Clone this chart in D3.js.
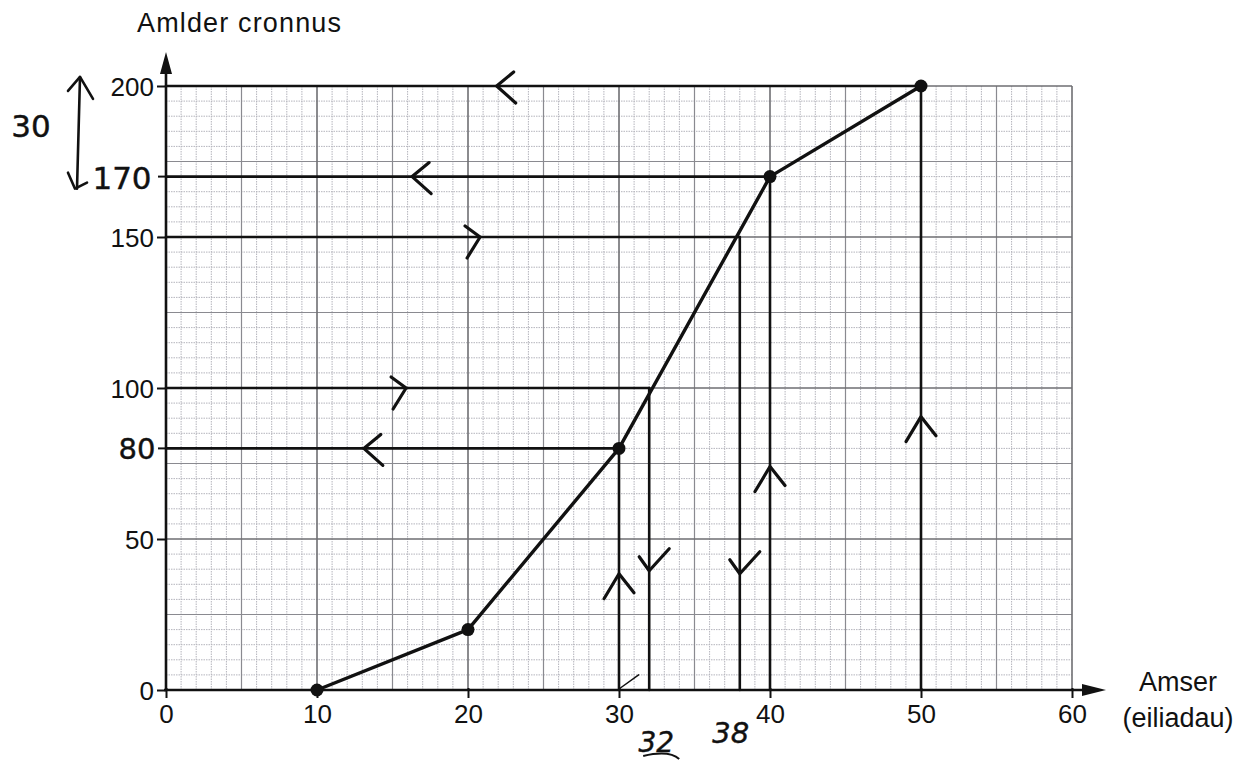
<!DOCTYPE html>
<html>
<head>
<meta charset="utf-8">
<script src="https://cdn.jsdelivr.net/npm/d3@7"></script>
<style>
  html, body { margin: 0; padding: 0; background: #fff; }
  svg { display: block; }
  .printed { font-family: "Liberation Sans", Arial, sans-serif; fill: #111; }
  .hand { font-family: "DejaVu Sans", sans-serif; fill: #111; font-weight: normal; stroke: #111; stroke-width: 0.4; }
</style>
</head>
<body>
<svg id="chart" width="1247" height="760"></svg>
<script>
// ---- data ----
const timeSeconds   = [10, 20, 30, 40, 50];
const cumulativeFreq = [0, 20, 80, 170, 200];
const xTickValues   = [0, 10, 20, 30, 40, 50, 60];
const yTickValues   = [0, 50, 100, 150, 200];
const xTitleLines   = ["Amser", "(eiliadau)"];
const yTitle        = "Amlder cronnus";

// reading lines (x read, y read)
const readX = [30, 32, 38, 40, 50];
const readY = [80, 100, 150, 170, 200];
// chevrons on the horizontal reading lines (x in data units) and their direction
const hChevX   = [13.1, 15.9, 20.8, 16.3, 21.9];
const hChevDir = ["left", "right", "right", "left", "left"];
// chevrons on the vertical reading lines (y in data units) and their direction
const vChevY   = [38.5, 39.5, 38.5, 74, 90.5];
const vChevDir = ["up", "down", "down", "up", "up"];
// handwritten labels
const handYLabels = ["170", "80"];
const handYValues = [170, 80];
const handXLabels = ["32", "38"];
const handXValues = [32, 38];
const diffLabel = "30";

// ---- scales ----
const svg = d3.select("#chart");
const x = d3.scaleLinear().domain([0, 60]).range([166, 1072]);
const y = d3.scaleLinear().domain([0, 200]).range([690, 86]);

// ---- grid ----
const grid = svg.append("g");
const xGrid = d3.range(0, 61, 1);
const yGrid = d3.range(0, 201, 5);
function lvlX(v) { return v % 10 === 0 ? 2 : (v % 5 === 0 ? 1 : 0); }
function lvlY(v) { return v % 50 === 0 ? 2 : (v % 25 === 0 ? 1 : 0); }
const gStroke = ["#b4b4bc", "#8a8a90", "#6e6e72"];
const gWidth = [1, 1.2, 1.6];
const gDash = ["1.5,1", null, null];
[0, 1, 2].forEach(level => {
  grid.selectAll(null).data(xGrid.filter(v => lvlX(v) === level)).enter().append("line")
    .attr("x1", d => x(d)).attr("x2", d => x(d)).attr("y1", y(0)).attr("y2", y(200))
    .attr("stroke", gStroke[level]).attr("stroke-width", gWidth[level])
    .attr("stroke-dasharray", gDash[level]);
  grid.selectAll(null).data(yGrid.filter(v => lvlY(v) === level)).enter().append("line")
    .attr("y1", d => y(d)).attr("y2", d => y(d)).attr("x1", x(0)).attr("x2", x(60))
    .attr("stroke", gStroke[level]).attr("stroke-width", gWidth[level])
    .attr("stroke-dasharray", gDash[level]);
});

// ---- axes ----
const axes = svg.append("g");
const xAxis = d3.axisBottom(x).tickValues(xTickValues).tickSize(8).tickPadding(6).tickFormat(d3.format("d"));
const gx = axes.append("g").attr("transform", `translate(0,${y(0)})`).call(xAxis);
gx.select(".domain").remove();
gx.selectAll(".tick line").attr("stroke", "#111").attr("stroke-width", 2).attr("y1", -2);
gx.selectAll(".tick text").attr("font-size", 26).attr("dy", "0.72em")
  .attr("font-family", "Liberation Sans, Arial, sans-serif").attr("fill", "#111");

const yAxis = d3.axisLeft(y).tickValues(yTickValues).tickSize(9).tickPadding(3).tickFormat(d3.format("d"));
const gy = axes.append("g").attr("transform", `translate(${x(0)},0)`).call(yAxis);
gy.select(".domain").remove();
gy.selectAll(".tick line").attr("stroke", "#111").attr("stroke-width", 2);
gy.selectAll(".tick text").attr("font-size", 26).attr("dy", "0.35em")
  .attr("font-family", "Liberation Sans, Arial, sans-serif").attr("fill", "#111");
// handwritten tick marks for 170 and 80
gy.selectAll(null).data(handYValues).enter().append("line")
  .attr("x1", -8).attr("x2", 0).attr("y1", d => y(d)).attr("y2", d => y(d))
  .attr("stroke", "#111").attr("stroke-width", 2);

// axis lines with arrow heads
axes.append("line").attr("x1", x(0)).attr("x2", x(0)).attr("y1", y(0) + 1).attr("y2", 70)
  .attr("stroke", "#111").attr("stroke-width", 2.6);
axes.append("path").attr("d", `M${x(0)},52 L${x(0) - 6},74 L${x(0) + 6},74 Z`).attr("fill", "#111");
axes.append("line").attr("x1", x(0) - 2).attr("x2", 1088).attr("y1", y(0)).attr("y2", y(0))
  .attr("stroke", "#111").attr("stroke-width", 2.6);
axes.append("path").attr("d", `M1106,${y(0)} L1082,${y(0) - 6} L1082,${y(0) + 6} Z`).attr("fill", "#111");

// axis titles
svg.append("text").attr("class", "printed").attr("x", 137).attr("y", 32)
  .attr("font-size", 27).attr("textLength", 204).text(yTitle);
svg.append("text").attr("class", "printed").attr("x", 1178).attr("y", 691)
  .attr("text-anchor", "middle").attr("font-size", 27).text(xTitleLines[0]);
svg.append("text").attr("class", "printed").attr("x", 1178).attr("y", 727)
  .attr("text-anchor", "middle").attr("font-size", 27).text(xTitleLines[1]);

// ---- reading lines ----
const ann = svg.append("g").attr("stroke", "#111").attr("fill", "none").attr("stroke-linecap", "round");
readY.forEach((v, i) => {
  ann.append("line").attr("x1", x(0)).attr("x2", x(readX[i])).attr("y1", y(v)).attr("y2", y(v))
    .attr("stroke-width", 2.6);
  ann.append("line").attr("x1", x(readX[i])).attr("x2", x(readX[i])).attr("y1", y(0)).attr("y2", y(v))
    .attr("stroke-width", 2.6);
});

// chevrons
function chevron(tx, ty, dir) {
  let a, b;
  if (dir === "left")  { a = [tx + 17, ty - 14]; b = [tx + 19, ty + 17]; }
  if (dir === "right") { a = [tx - 15, ty - 11]; b = [tx - 13, ty + 21]; }
  if (dir === "up")    { a = [tx - 15, ty + 25]; b = [tx + 15, ty + 19]; }
  if (dir === "down")  { a = [tx - 10, ty - 14]; b = [tx + 20, ty - 22]; }
  return `M${a[0]},${a[1]} L${tx},${ty} L${b[0]},${b[1]}`;
}
const chev = svg.append("g").attr("stroke", "#111").attr("fill", "none")
  .attr("stroke-width", 3.2).attr("stroke-linecap", "round").attr("stroke-linejoin", "round");
hChevX.forEach((v, i) => chev.append("path").attr("d", chevron(x(v), y(readY[i]), hChevDir[i])));
vChevY.forEach((v, i) => chev.append("path").attr("d", chevron(x(readX[i]), y(v), vChevDir[i])));
// small tick near x=30 on axis
chev.append("path").attr("d", `M${x(30)},${y(0) - 1} L${x(31.3)},${y(5)}`).attr("stroke-width", 1.5);

// ---- cumulative frequency polygon ----
const pts = timeSeconds.map((t, i) => [t, cumulativeFreq[i]]);
svg.append("path").datum(pts)
  .attr("d", d3.line().x(d => x(d[0])).y(d => y(d[1])))
  .attr("fill", "none").attr("stroke", "#111").attr("stroke-width", 3.4).attr("stroke-linejoin", "round");
svg.append("g").selectAll("circle").data(pts).enter().append("circle")
  .attr("cx", d => x(d[0])).attr("cy", d => y(d[1])).attr("r", 6.5).attr("fill", "#111");

// ---- handwritten labels ----
const hand = svg.append("g");
hand.append("text").attr("class", "hand").attr("x", 31).attr("y", 137).attr("text-anchor", "middle")
  .attr("font-size", 31).text(diffLabel);
hand.append("text").attr("class", "hand").attr("x", 122).attr("y", y(handYValues[0]) + 12)
  .attr("text-anchor", "middle").attr("font-size", 31).text(handYLabels[0]);
hand.append("text").attr("class", "hand").attr("x", 137).attr("y", y(handYValues[1]) + 11)
  .attr("text-anchor", "middle").attr("font-size", 29).text(handYLabels[1]);
hand.append("text").attr("class", "hand").attr("x", x(handXValues[0]) + 7).attr("y", 752)
  .attr("text-anchor", "middle").attr("font-size", 28).attr("font-style", "italic").text(handXLabels[0]);
hand.append("text").attr("class", "hand").attr("x", x(handXValues[1]) - 9).attr("y", 743)
  .attr("text-anchor", "middle").attr("font-size", 29).attr("font-style", "italic").text(handXLabels[1]);
// underline stroke under 32
hand.append("path").attr("d", `M${x(handXValues[0]) - 6},756 Q${x(handXValues[0]) + 20},750 ${x(handXValues[0]) + 30},759`)
  .attr("stroke", "#111").attr("stroke-width", 2).attr("fill", "none");

// double-headed difference arrow between 200 and 170
const dbl = svg.append("g").attr("stroke", "#111").attr("fill", "none")
  .attr("stroke-width", 2.6).attr("stroke-linecap", "round").attr("stroke-linejoin", "round");
dbl.append("path").attr("d", `M80,${y(203)} L77,${y(166)}`);
dbl.append("path").attr("d", `M68,${y(203) + 14} L80,${y(203)} L93,${y(203) + 22}`);
dbl.append("path").attr("d", `M68,${y(166) - 16} L75,${y(166)} L87,${y(166) - 6}`);
</script>
</body>
</html>
